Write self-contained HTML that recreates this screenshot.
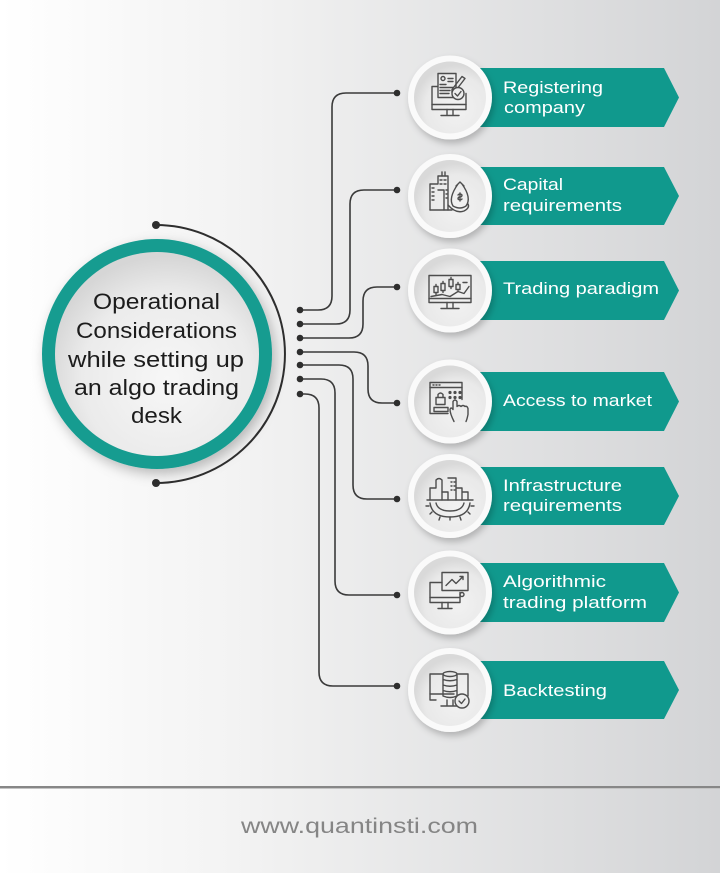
<!DOCTYPE html>
<html><head><meta charset="utf-8"><style>
html,body{margin:0;padding:0;}
body{width:720px;height:873px;overflow:hidden;}
svg{display:block;}
</style></head><body>
<svg width="720" height="873" viewBox="0 0 720 873" xmlns="http://www.w3.org/2000/svg" font-family="'Liberation Sans', Arial, sans-serif">
<defs>
<linearGradient id="bg" x1="0" y1="0" x2="1" y2="0">
<stop offset="0" stop-color="#ffffff"/>
<stop offset="0.35" stop-color="#f2f2f2"/>
<stop offset="1" stop-color="#d3d4d6"/>
</linearGradient>
<radialGradient id="inner" cx="0.55" cy="0.62" r="0.6">
<stop offset="0" stop-color="#f7f7f7"/>
<stop offset="0.7" stop-color="#ebebeb"/>
<stop offset="1" stop-color="#d6d6d6"/>
</radialGradient>
<radialGradient id="ic" cx="0.6" cy="0.65" r="0.6">
<stop offset="0" stop-color="#f2f2f2"/>
<stop offset="0.75" stop-color="#e9e9e9"/>
<stop offset="1" stop-color="#d9d9d9"/>
</radialGradient>
<filter id="sh" x="-30%" y="-30%" width="160%" height="160%">
<feDropShadow dx="2" dy="4" stdDeviation="3.5" flood-color="#000" flood-opacity="0.22"/>
</filter>
<filter id="bsh" x="-30%" y="-30%" width="160%" height="160%">
<feDropShadow dx="3" dy="5" stdDeviation="6" flood-color="#000" flood-opacity="0.25"/>
</filter>
</defs>

<rect x="0" y="0" width="720" height="873" fill="url(#bg)"/>

<!-- footer -->
<rect x="0" y="786" width="720" height="2" fill="#878787"/>
<rect x="0" y="788" width="720" height="1" fill="#c4c4c4"/>
<text x="241" y="833" font-size="21" fill="#858585" textLength="237" lengthAdjust="spacingAndGlyphs">www.quantinsti.com</text>

<!-- big circle -->
<path d="M156,225 A129,129 0 0 1 156,483" fill="none" stroke="#2e2e2e" stroke-width="2"/>
<circle cx="156" cy="225" r="4" fill="#2e2e2e"/>
<circle cx="156" cy="483" r="4" fill="#2e2e2e"/>
<circle cx="157" cy="354" r="115" fill="#159c90" filter="url(#bsh)"/>
<circle cx="157" cy="354" r="102" fill="url(#inner)"/>
<g font-size="22" fill="#1c1c1c" text-anchor="start">
<text x="93" y="309" textLength="127" lengthAdjust="spacingAndGlyphs">Operational</text>
<text x="76" y="338" textLength="161" lengthAdjust="spacingAndGlyphs">Considerations</text>
<text x="68" y="367" textLength="176" lengthAdjust="spacingAndGlyphs">while setting up</text>
<text x="74" y="395" textLength="165" lengthAdjust="spacingAndGlyphs">an algo trading</text>
<text x="131" y="423" textLength="51" lengthAdjust="spacingAndGlyphs">desk</text>
</g>

<!-- connectors -->
<g fill="none" stroke="#3a3a3a" stroke-width="1.6">
<path d="M300,310 H318 Q332,310 332,296 V107 Q332,93 346,93 H397"/>
<path d="M300,324 H336 Q350,324 350,310 V204 Q350,190 364,190 H397"/>
<path d="M300,338 H349 Q363,338 363,324 V301 Q363,287 377,287 H397"/>
<path d="M300,352 H354 Q368,352 368,366 V389 Q368,403 382,403 H397"/>
<path d="M300,365 H339 Q353,365 353,379 V485 Q353,499 367,499 H397"/>
<path d="M300,379 H321 Q335,379 335,393 V581 Q335,595 349,595 H397"/>
<path d="M300,394 H305 Q319,394 319,408 V672 Q319,686 333,686 H397"/>
</g>
<g fill="#2e2e2e">
<circle cx="300" cy="310" r="3.3"/><circle cx="300" cy="324" r="3.3"/><circle cx="300" cy="338" r="3.3"/>
<circle cx="300" cy="352" r="3.3"/><circle cx="300" cy="365" r="3.3"/><circle cx="300" cy="379" r="3.3"/>
<circle cx="300" cy="394" r="3.3"/>
<circle cx="397" cy="93" r="3.3"/><circle cx="397" cy="190" r="3.3"/><circle cx="397" cy="287" r="3.3"/>
<circle cx="397" cy="403" r="3.3"/><circle cx="397" cy="499" r="3.3"/><circle cx="397" cy="595" r="3.3"/>
<circle cx="397" cy="686" r="3.3"/>
</g>

<!-- banners -->
<g fill="#10998d">
<path d="M480,68 H664 L679,97.5 L664,127 H480 Z"/>
<path d="M480,167 H664 L679,196 L664,225 H480 Z"/>
<path d="M480,261 H664 L679,290.5 L664,320 H480 Z"/>
<path d="M480,372 H664 L679,401.5 L664,431 H480 Z"/>
<path d="M480,467 H664 L679,496 L664,525 H480 Z"/>
<path d="M480,563 H664 L679,592.5 L664,622 H480 Z"/>
<path d="M480,661 H664 L679,690 L664,719 H480 Z"/>
</g>
<g font-size="17" fill="#ffffff">
<text x="503" y="93" textLength="100" lengthAdjust="spacingAndGlyphs">Registering</text>
<text x="504" y="113" textLength="81" lengthAdjust="spacingAndGlyphs">company</text>
<text x="503" y="190" textLength="60" lengthAdjust="spacingAndGlyphs">Capital</text>
<text x="503" y="211" textLength="119" lengthAdjust="spacingAndGlyphs">requirements</text>
<text x="503" y="294" textLength="156" lengthAdjust="spacingAndGlyphs">Trading paradigm</text>
<text x="503" y="406" textLength="149" lengthAdjust="spacingAndGlyphs">Access to market</text>
<text x="503" y="491" textLength="119" lengthAdjust="spacingAndGlyphs">Infrastructure</text>
<text x="503" y="511" textLength="119" lengthAdjust="spacingAndGlyphs">requirements</text>
<text x="503" y="587" textLength="103" lengthAdjust="spacingAndGlyphs">Algorithmic</text>
<text x="503" y="608" textLength="144" lengthAdjust="spacingAndGlyphs">trading platform</text>
<text x="503" y="696" textLength="104" lengthAdjust="spacingAndGlyphs">Backtesting</text>
</g>

<!-- icon circles -->
<g>
<circle cx="450" cy="97.5" r="42" fill="#fafafa" filter="url(#sh)"/><circle cx="450" cy="97.5" r="36" fill="url(#ic)"/>
<circle cx="450" cy="196" r="42" fill="#fafafa" filter="url(#sh)"/><circle cx="450" cy="196" r="36" fill="url(#ic)"/>
<circle cx="450" cy="290.5" r="42" fill="#fafafa" filter="url(#sh)"/><circle cx="450" cy="290.5" r="36" fill="url(#ic)"/>
<circle cx="450" cy="401.5" r="42" fill="#fafafa" filter="url(#sh)"/><circle cx="450" cy="401.5" r="36" fill="url(#ic)"/>
<circle cx="450" cy="496" r="42" fill="#fafafa" filter="url(#sh)"/><circle cx="450" cy="496" r="36" fill="url(#ic)"/>
<circle cx="450" cy="592.5" r="42" fill="#fafafa" filter="url(#sh)"/><circle cx="450" cy="592.5" r="36" fill="url(#ic)"/>
<circle cx="450" cy="690" r="42" fill="#fafafa" filter="url(#sh)"/><circle cx="450" cy="690" r="36" fill="url(#ic)"/>
</g>

<!-- icons -->
<g fill="none" stroke="#4d4d4d" stroke-width="1.4" stroke-linejoin="round" stroke-linecap="round">
<!-- 1 registering -->
<g transform="translate(450,97.5)">
<path d="M-12,-11 H-18 V12 H16 V-4"/>
<path d="M-18,7 H16"/>
<path d="M-3,12 V17 M3,12 V17 M-9,18 H9"/>
<rect x="-12" y="-24" width="18" height="24" fill="#ececec"/>
<circle cx="-7" cy="-19" r="2"/>
<path d="M-10,-13 H-4 M-2,-19 H3 M-2,-16 H3 M-10,-10 H3 M-10,-7 H0 M-10,-4 H-1"/>
<path d="M2,-8 L12,-21 L15,-19 L5,-6 L2,-5 Z"/>
<circle cx="8" cy="-4" r="6" fill="#ececec"/>
<path d="M5,-4 L7.5,-1.5 L11,-6"/>
</g>
<!-- 2 capital -->
<g transform="translate(450,196)">
<path d="M-20,14 V-12 H-12 V-20 H-2 V14"/>
<path d="M-8,-20 V-24 M-5,-20 V-24"/>
<path d="M-12,-6 H-6 V14"/>
<path d="M-18,-8 h2 M-18,-4 h2 M-18,0 h2 M-18,4 h2 M-10,-16 h2 M-6,-16 h2 M-10,-12 h2 M-6,-12 h2 M-4,-6 h1 M-4,-2 h1 M-4,2 h1"/>
<path d="M-20,14 H2"/>
<path d="M6,-10 L10,-14 L14,-10 M8,-12 Q-2,2 3,10 Q10,14 16,10 Q22,2 12,-12"/>
<path d="M10,-3 V5 M8,-1 Q10,-3 12,-1 Q12,1 10,1 Q8,1 8,3 Q10,5 12,3"/>
<path d="M-2,9 Q6,18 14,15 Q20,12 18,8"/>
</g>
<!-- 3 trading -->
<g transform="translate(450,290.5)">
<rect x="-21" y="-15" width="42" height="27"/>
<path d="M-21,8 H21 M-3,12 V17 M3,12 V17 M-9,18 H9"/>
<path d="M-14,-6 V4 M-7,-9 V2 M1,-13 V-2 M8,-8 V0"/>
<rect x="-16" y="-4" width="4" height="6" fill="#e9e9e9"/>
<rect x="-9" y="-7" width="4" height="7" fill="#e9e9e9"/>
<rect x="-1" y="-11" width="4" height="7" fill="#e9e9e9"/>
<rect x="6" y="-6" width="4" height="5" fill="#e9e9e9"/>
<path d="M-19,6 L-8,4 L0,6 L8,1 L14,3 L19,-4"/>
<path d="M13,-8 h4"/>
</g>
<!-- 4 access -->
<g transform="translate(450,401.5)">
<path d="M12,-2 V-19 H-20 V12 H-2"/>
<path d="M-20,-14 H12"/>
<path d="M-17,-16.5 h1 M-14,-16.5 h1 M-11,-16.5 h1"/>
<rect x="-14" y="-4" width="9" height="7"/>
<path d="M-12,-4 V-7 Q-9.5,-10 -7,-7 V-4"/>
<rect x="-16" y="6" width="14" height="4"/>
<g fill="#4d4d4d" stroke="none">
<circle cx="0" cy="-9" r="1.6"/><circle cx="5" cy="-9" r="1.6"/><circle cx="10" cy="-9" r="1.6"/>
<circle cx="0" cy="-4" r="1.6"/><circle cx="5" cy="-4" r="1.6"/><circle cx="10" cy="-4" r="1.6"/>
</g>
<path d="M4,20 Q0,12 0,8 Q1,5 3,8 V0 Q5,-3 7,0 V5 Q9,3 11,5 Q13,3 15,5 Q17,4 18,7 V13 Q17,18 16,20" fill="#ececec"/>
</g>
<!-- 5 infrastructure -->
<g transform="translate(450,496)">
<path d="M-20,4 V-8 H-14 V-16 Q-11,-19 -8,-16 V4"/>
<path d="M-8,-4 H-2 V4 M-2,-18 H6 V4 M6,-8 H12 V4 M12,-4 H18 V4"/>
<path d="M1,-14 h1 M4,-14 h1 M1,-10 h1 M4,-10 h1 M1,-6 h1 M4,-6 h1"/>
<path d="M-23,4 H23"/>
<path d="M-20,7 Q-18,21 0,21 Q18,21 20,7"/>
<path d="M-14,7 Q-12,15 0,15 Q12,15 14,7"/>
<path d="M-21,10 h-3 M-18,16 l-2,2 M-10,21 l-1,3 M0,21 v3 M10,21 l1,3 M18,16 l2,2 M21,10 h3"/>
</g>
<!-- 6 algorithmic -->
<g transform="translate(450,592.5)">
<rect x="-8" y="-20" width="26" height="18"/>
<path d="M-4,-7 L2,-13 L6,-9 L13,-16 M10,-16 H13 V-13"/>
<path d="M-8,-10 H-20 V10 H10 V0"/>
<path d="M-20,5 H10"/>
<path d="M-8,10 V15 M-2,10 V15 M-12,16 H2"/>
<circle cx="12" cy="2" r="2"/>
</g>
<!-- 7 backtesting -->
<g transform="translate(450,690)">
<path d="M8,-16 H18 V6 M-14,10 H-20 V-16 H-8"/>
<path d="M-20,4 H4"/>
<path d="M-3,10 V15 M3,10 V15 M-9,16 H7"/>
<ellipse cx="0" cy="-16" rx="7" ry="2.5"/>
<path d="M-7,-16 V6 Q0,9 7,6 V-16 M-7,-10.5 Q0,-8 7,-10.5 M-7,-5 Q0,-2.5 7,-5 M-7,0.5 Q0,3 7,0.5"/>
<circle cx="12" cy="11" r="7" fill="#ececec"/>
<path d="M9,11 L11.5,13.5 L15,9"/>
</g>
</g>
</svg>
</body></html>
